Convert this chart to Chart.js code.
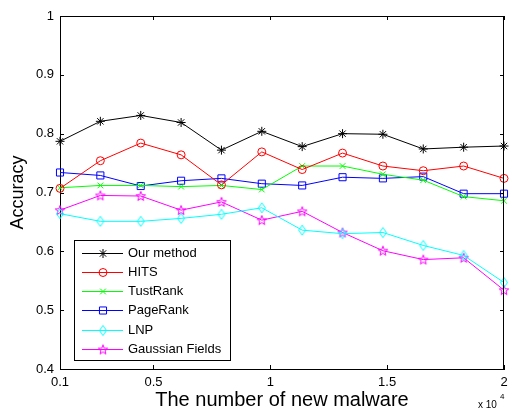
<!DOCTYPE html>
<html>
<head>
<meta charset="utf-8">
<script src="https://cdn.jsdelivr.net/npm/chart.js@4.4.0/dist/chart.umd.min.js"></script>
<style>
  html, body { margin: 0; padding: 0; background: #fff; }
  #wrap { width: 510px; height: 410px; }
</style>
</head>
<body>
<div id="wrap"><canvas id="accChart" width="510" height="410"></canvas></div>
<script>
// x values are in units of 10^4
const newMalware = [0.1, 0.2727, 0.4455, 0.6182, 0.7909, 0.9636, 1.1364, 1.3091, 1.4818, 1.6545, 1.8273, 2.0];

const seriesNames = ["Our method", "HITS", "TustRank", "PageRank", "LNP", "Gaussian Fields"];
const ourMethod = [0.787, 0.821, 0.831, 0.819, 0.772, 0.804, 0.778, 0.800, 0.799, 0.774, 0.777, 0.779];
const hits      = [0.707, 0.754, 0.784, 0.764, 0.713, 0.769, 0.739, 0.767, 0.745, 0.737, 0.745, 0.724];
const tustRank  = [0.708, 0.712, 0.712, 0.710, 0.712, 0.705, 0.745, 0.745, 0.731, 0.721, 0.693, 0.686];
const pageRank  = [0.734, 0.729, 0.711, 0.720, 0.724, 0.715, 0.712, 0.726, 0.724, 0.727, 0.698, 0.698];
const lnp       = [0.664, 0.651, 0.651, 0.656, 0.663, 0.674, 0.636, 0.630, 0.632, 0.610, 0.593, 0.547];
const gaussian  = [0.670, 0.695, 0.694, 0.670, 0.684, 0.653, 0.668, 0.632, 0.601, 0.586, 0.589, 0.534];

const xTicks = [0.1, 0.5, 1, 1.5, 2];
const xTickLabels = ["0.1", "0.5", "1", "1.5", "2"];
const yTicks = [0.4, 0.5, 0.6, 0.7, 0.8, 0.9, 1];
const yTickLabels = ["0.4", "0.5", "0.6", "0.7", "0.8", "0.9", "1"];

Chart.defaults.font.family = "'Liberation Sans', Arial, sans-serif";
Chart.defaults.color = "#000";

// matlab-like hollow markers that chart.js doesn't have
function pentagram(color) {
    const c = document.createElement("canvas");
    c.width = 12; c.height = 12;
    const g = c.getContext("2d");
    g.strokeStyle = color;
    g.lineWidth = 1;
    g.beginPath();
    for (let i = 0; i < 10; i++) {
        const r = i % 2 === 0 ? 5 : 2.1;
        const a = -Math.PI / 2 + i * Math.PI / 5;
        const px = 6 + r * Math.cos(a), py = 6.4 + r * Math.sin(a);
        if (i === 0) g.moveTo(px, py); else g.lineTo(px, py);
    }
    g.closePath();
    g.stroke();
    return c;
}

function diamond(color) {
    const c = document.createElement("canvas");
    c.width = 10; c.height = 12;
    const g = c.getContext("2d");
    g.strokeStyle = color;
    g.lineWidth = 1;
    g.beginPath();
    g.moveTo(5, 1);
    g.lineTo(8.5, 6);
    g.lineTo(5, 11);
    g.lineTo(1.5, 6);
    g.closePath();
    g.stroke();
    return c;
}

const seriesValues = [ourMethod, hits, tustRank, pageRank, lnp, gaussian];
const seriesColors = ["#000000", "#ff0000", "#00ff00", "#0000ff", "#00ffff", "#ff00ff"];
const seriesMarkers = ["star", "circle", "crossRot", "rect", diamond("#00ffff"), pentagram("#ff00ff")];
const markerRadius = [4.5, 4, 4, 5, 5, 5];

const datasets = seriesNames.map((name, i) => ({
    label: name,
    data: newMalware.map((x, j) => ({ x: x, y: seriesValues[i][j] })),
    borderColor: seriesColors[i],
    backgroundColor: "transparent",
    borderWidth: 1,
    pointStyle: seriesMarkers[i],
    pointRadius: markerRadius[i],
    pointBorderColor: seriesColors[i],
    pointBackgroundColor: "transparent",
    pointBorderWidth: 1,
    tension: 0,
    clip: false
}));

// box, inward ticks, legend inside the plot, x 10^4 note
const matlabFrame = {
    id: "matlabFrame",
    afterDraw(chart) {
        const ctx = chart.ctx;
        const a = chart.chartArea;
        const xs = chart.scales.x, ys = chart.scales.y;
        const tick = 4;
        ctx.save();
        ctx.strokeStyle = "#000";
        ctx.lineWidth = 1;
        ctx.beginPath();
        ctx.moveTo(a.left, a.top + 0.5);
        ctx.lineTo(a.right, a.top + 0.5);
        ctx.moveTo(a.right - 0.5, a.top);
        ctx.lineTo(a.right - 0.5, a.bottom);
        xTicks.forEach(v => {
            const px = Math.round(xs.getPixelForValue(v)) + 0.5;
            ctx.moveTo(px, a.bottom); ctx.lineTo(px, a.bottom - tick);
            ctx.moveTo(px, a.top); ctx.lineTo(px, a.top + tick);
        });
        yTicks.forEach(v => {
            const py = Math.round(ys.getPixelForValue(v)) + 0.5;
            ctx.moveTo(a.left, py); ctx.lineTo(a.left + tick, py);
            ctx.moveTo(a.right, py); ctx.lineTo(a.right - tick, py);
        });
        ctx.stroke();

        // legend
        const bx = 74.5, by = 240.5, bw = 156, bh = 120;
        ctx.fillStyle = "#fff";
        ctx.fillRect(bx, by, bw, bh);
        ctx.strokeRect(bx, by, bw, bh);
        ctx.font = "13px 'Liberation Sans', Arial, sans-serif";
        ctx.textBaseline = "middle";
        ctx.textAlign = "left";
        chart.data.datasets.forEach((ds, i) => {
            const ly = Math.round(252.5 + i * 19.3) + 0.5;
            ctx.strokeStyle = ds.borderColor;
            ctx.beginPath();
            ctx.moveTo(82, ly);
            ctx.lineTo(123, ly);
            ctx.stroke();
            ctx.fillStyle = "rgba(0,0,0,0)";
            Chart.helpers.drawPoint(ctx, {
                pointStyle: ds.pointStyle,
                radius: ds.pointRadius,
                rotation: 0,
                borderWidth: 1
            }, 103, ly);
            ctx.fillStyle = "#000";
            ctx.fillText(ds.label, 128, ly);
        });

        // exponent note under the x axis
        ctx.fillStyle = "#000";
        ctx.textBaseline = "alphabetic";
        ctx.font = "10px 'Liberation Sans', Arial, sans-serif";
        ctx.fillText("x 10", 478, 408);
        ctx.font = "8px 'Liberation Sans', Arial, sans-serif";
        ctx.fillText("4", 500, 399);
        ctx.restore();
    }
};

new Chart(document.getElementById("accChart").getContext("2d"), {
    type: "line",
    data: { datasets: datasets },
    options: {
        responsive: false,
        animation: false,
        events: [],
        layout: { padding: { top: 16, right: 3, left: 0, bottom: 0 } },
        plugins: {
            legend: { display: false },
            tooltip: { enabled: false }
        },
        scales: {
            x: {
                type: "linear",
                min: 0.1,
                max: 2,
                afterBuildTicks: s => { s.ticks = xTicks.map(v => ({ value: v })); },
                afterFit: s => { s.height = 41; s.paddingLeft = 0; s.paddingRight = 0; },
                ticks: {
                    autoSkip: false,
                    maxRotation: 0,
                    padding: 6,
                    color: "#000",
                    font: { size: 13 },
                    callback: (v, i) => xTickLabels[i]
                },
                grid: { drawOnChartArea: false, drawTicks: false },
                border: { color: "#000", width: 1 },
                title: {
                    display: true,
                    text: "The number of new malware",
                    color: "#000",
                    font: { size: 20, lineHeight: 1.0 },
                    padding: 0
                }
            },
            y: {
                min: 0.4,
                max: 1,
                afterBuildTicks: s => { s.ticks = yTicks.map(v => ({ value: v })); },
                afterFit: s => { s.width = 60; },
                ticks: {
                    padding: 6,
                    color: "#000",
                    font: { size: 13 },
                    callback: (v, i) => yTickLabels[i]
                },
                grid: { drawOnChartArea: false, drawTicks: false },
                border: { color: "#000", width: 1 },
                title: {
                    display: true,
                    text: "Accuracy",
                    color: "#000",
                    font: { size: 18 },
                    padding: { top: 7, bottom: 0 }
                }
            }
        }
    },
    plugins: [matlabFrame]
});
</script>
</body>
</html>
